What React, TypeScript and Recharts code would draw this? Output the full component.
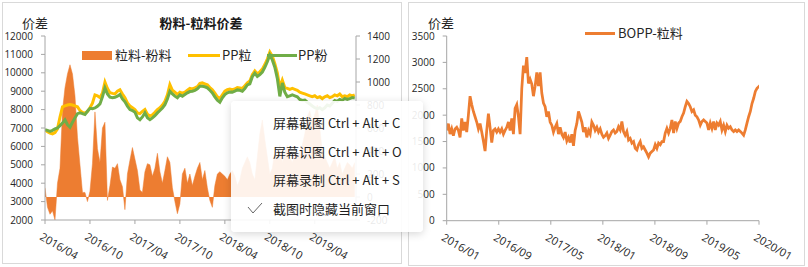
import React from 'react'
import { ComposedChart, LineChart, Line, Area, XAxis, YAxis } from 'recharts'

// left chart: x tick labels every 6 months, samples every 1/3 month from 2016/04
const leftTicks = ['2016/04', '2016/10', '2017/04', '2017/10', '2018/04', '2018/10', '2019/04']
// right chart: x tick labels every 8 months, samples about every week from 2016/01
const rightTicks = ['2016/01', '2016/09', '2017/05', '2018/01', '2018/09', '2019/05', '2020/01']

const ppPellet = [
  6900, 6800, 6720, 6680, 6750, 6950, 7600, 8150, 8200, 8250, 8270, 8250, 8200, 8150, 7950, 7850,
  7800, 7900, 8100, 8350, 8800, 8750, 8650, 8900, 9500, 9150, 8920, 8880, 8850, 9000, 9080, 8850,
  8640, 8360, 8200, 8100, 8000, 7820, 7780, 7900, 8000, 7750, 7640, 7720, 7850, 8000, 8100, 8250,
  8450, 8800, 9360, 9050, 8950, 8820, 8950, 8900, 8950, 9050, 9150, 9120, 9180, 9250, 9420, 9450,
  9400, 9350, 9200, 9080, 8900, 8700, 8600, 8800, 9000, 9080, 9120, 9080, 9120, 9200, 9180, 9150,
  9300, 9450, 9550, 9900, 10100, 9950, 10050, 10200, 10450, 10750, 11130, 10900, 10500, 10000, 9200, 9600,
  9200, 9150, 9100, 9150, 9100, 9050, 8950, 8900, 8850, 8800, 8750, 8700, 8750, 8650, 8700, 8600,
  8700, 8750, 8650, 8700, 8800, 8750, 8850, 8700, 8750, 8700, 8800, 8750, 8800,
]

const ppPowder = [
  6910, 6870, 6820, 6870, 6950, 7000, 7130, 7270, 7450, 7180, 7040, 7310, 7550, 7780, 7820, 7780,
  7730, 7910, 8070, 8050, 8090, 8180, 8310, 8690, 9180, 8850, 8670, 8640, 8670, 8730, 8820, 8580,
  8420, 8180, 8000, 7950, 7860, 7550, 7450, 7600, 7820, 7550, 7450, 7550, 7670, 7820, 7950, 8090,
  8270, 8580, 9000, 8850, 8730, 8640, 8800, 8730, 8820, 8910, 8980, 9000, 9040, 9130, 9270, 9270,
  9240, 9180, 9050, 8910, 8690, 8510, 8400, 8640, 8820, 8910, 8960, 8950, 9000, 9070, 9050, 9000,
  9150, 9340, 9400, 9790, 9980, 9800, 9900, 10040, 10300, 10600, 10970, 10700, 10300, 9700, 8720, 9450,
  8950, 8700, 8750, 8800, 8750, 8700, 8550, 8500, 8520, 8400, 8300, 8200, 8100, 8050, 8100, 8000,
  8100, 8250, 8200, 8350, 8500, 8450, 8550, 8500, 8600, 8550, 8600, 8650, 8630,
]

const spread = [
  80, -90, -150, -120, -200, 120, 250, 750, 950, 1070, 1150, 1070, 880, 520, 280, 40,
  40, -40, 50, 290, 740, 420, 300, 600, 650, -30, 100, 260, 250, 290, 150, 90,
  -110, 200, 320, 430, 330, 230, 60, 40, 220, 290, 280, 180, 250, 380, 220, 120,
  230, 350, 300, 80, -40, -145, -60, 200, 250, 120, 200, 100, 180, 250, 300, 150,
  230, 80, -30, -90, 100, 200, 220, 200, 180, 150, 200, 230, 180, 100, 150, 250,
  300, 350, 300, 200, 150, 350, 550, 670, 500, 350, 200, 250, 400, 350, 450, 300,
  400, 450, 350, 300, 380, 350, 400, 450, 550, 700, 750, 650, 720, 800, 600, 400,
  350, 300, 250, 300, 350, 250, 300, 200, 250, 300, 280, 250, 300,
]

const bopp = [
  1710, 1840, 1640, 1740, 1610, 1740, 1770, 1710, 1580, 1940, 1710, 1870, 1680, 2000, 2360, 2200,
  2070, 1970, 1870, 1740, 1840, 1680, 1510, 1320, 1710, 2030, 1770, 1480, 1710, 1740, 1680, 1740,
  1680, 1740, 1640, 1710, 1770, 1870, 1710, 1940, 1640, 2130, 2200, 1970, 1640, 2500, 2940, 2800,
  3100, 2600, 2680, 2590, 2360, 2550, 2810, 2550, 2810, 2420, 2230, 2160, 1970, 2070, 1870, 1810,
  1680, 1770, 1840, 1640, 1770, 1640, 1580, 1680, 1510, 1580, 1480, 1640, 1420, 1710, 1840, 2070,
  1970, 1870, 1680, 1770, 1580, 1710, 1640, 1870, 1810, 1710, 1770, 1680, 1740, 1640, 1580, 1610,
  1660, 1560, 1620, 1690, 1720, 1660, 1690, 1780, 1720, 1880, 1690, 1620, 1690, 1530, 1560, 1470,
  1500, 1370, 1340, 1440, 1500, 1370, 1400, 1340, 1280, 1210, 1280, 1310, 1340, 1440, 1370, 1470,
  1440, 1500, 1500, 1660, 1750, 1660, 1750, 1910, 1660, 1880, 1750, 1850, 1880, 1970, 2040, 2160,
  2260, 2220, 2160, 2070, 2100, 2000, 1970, 1910, 1810, 1880, 1910, 1880, 1850, 1720, 1850, 1750,
  1880, 1720, 1850, 1810, 1880, 1720, 1810, 1690, 1810, 1750, 1780, 1720, 1690, 1720, 1690, 1720,
  1690, 1660, 1620, 1720, 1850, 1970, 2070, 2220, 2320, 2450, 2510, 2540, 2570, 2510,
]

const LEFT_STEP = 1 / 3
const RIGHT_STEP = 5 / 3 / 6.5

const leftData = ppPellet.map((v, i) => ({
  m: i * LEFT_STEP,
  pellet: v,
  powder: ppPowder[i],
  spread: spread[i],
}))
const rightData = bopp.map((v, i) => ({ m: i * RIGHT_STEP, bopp: v }))

const ORANGE = '#ED7D31'
const YELLOW = '#FFC000'
const GREEN = '#70AD47'
const AXIS = '#a6a6a6'
const LABEL = '#262626'
const NUM_FONT = '"Open Sans", "Noto Sans", sans-serif'
const CJK_FONT = '"Noto Sans CJK SC", "Noto Sans", sans-serif'

const makeDateTick = (labels: string[], every: number) => (props: any) => {
  const { x, y, payload } = props
  const label = labels[Math.round(payload.value / every)]
  return (
    <g transform={`translate(${x - 6},${y + 13})`}>
      <text
        x={0}
        y={0}
        transform="rotate(30)"
        textAnchor="start"
        fontSize={11}
        fontFamily={NUM_FONT}
        fill={LABEL}
      >
        {label}
      </text>
    </g>
  )
}

const yTick = { fontSize: 10, fill: LABEL, fontFamily: NUM_FONT }

const abs = (left: number, top: number, extra: React.CSSProperties = {}): React.CSSProperties => ({
  position: 'absolute',
  left,
  top,
  ...extra,
})

const LeftChart = () => (
  <>
    <div style={abs(2, 2, { width: 400, height: 262, border: '1px solid #d9d9d9', boxSizing: 'border-box' })} />
    <div style={abs(0, 0)}>
      <ComposedChart
        width={404}
        height={267}
        data={leftData}
        margin={{ top: 36, right: 4, bottom: 7, left: 5 }}
      >
        <XAxis
          dataKey="m"
          type="number"
          domain={[0, 41.5]}
          ticks={[0, 6, 12, 18, 24, 30, 36]}
          allowDataOverflow
          height={40}
          stroke={AXIS}
          tickSize={4}
          interval={0}
          tick={makeDateTick(leftTicks, 6)}
        />
        <YAxis
          yAxisId="left"
          domain={[2000, 12000]}
          ticks={[2000, 3000, 4000, 5000, 6000, 7000, 8000, 9000, 10000, 11000, 12000]}
          width={40}
          stroke={AXIS}
          tickSize={4}
          tickMargin={8}
          interval={0}
          tick={yTick}
        />
        <YAxis
          yAxisId="right"
          orientation="right"
          domain={[-200, 1400]}
          ticks={[-200, 0, 200, 400, 600, 800, 1000, 1200, 1400]}
          width={44}
          stroke={AXIS}
          tickSize={4}
          tickMargin={7}
          interval={0}
          tick={{ ...yTick, textAnchor: 'start' }}
        />
        <Area
          yAxisId="right"
          dataKey="spread"
          type="linear"
          baseValue={0}
          fill={ORANGE}
          fillOpacity={1}
          stroke={ORANGE}
          strokeWidth={0.5}
          isAnimationActive={false}
        />
        <Line
          yAxisId="left"
          dataKey="pellet"
          type="linear"
          stroke={YELLOW}
          strokeWidth={3}
          dot={false}
          isAnimationActive={false}
        />
        <Line
          yAxisId="left"
          dataKey="powder"
          type="linear"
          stroke={GREEN}
          strokeWidth={3}
          dot={false}
          isAnimationActive={false}
        />
      </ComposedChart>
    </div>
    <div style={abs(22, 14, { fontSize: 13, fontFamily: CJK_FONT, color: LABEL, lineHeight: '18px' })}>价差</div>
    <div
      style={abs(120, 14, {
        width: 162,
        textAlign: 'center',
        fontSize: 13,
        fontWeight: 'bold',
        fontFamily: CJK_FONT,
        color: '#1a1a1a',
        lineHeight: '18px',
      })}
    >
      粉料-粒料价差
    </div>
    <div style={abs(82, 51, { width: 30, height: 9, background: ORANGE })} />
    <div style={abs(115, 46, { fontSize: 13, fontFamily: CJK_FONT, color: LABEL, lineHeight: '18px' })}>粒料-粉料</div>
    <div style={abs(188, 54, { width: 32, height: 3, background: YELLOW })} />
    <div style={abs(222, 46, { fontSize: 13, fontFamily: CJK_FONT, color: LABEL, lineHeight: '18px' })}>PP粒</div>
    <div style={abs(267, 54, { width: 30, height: 3, background: GREEN })} />
    <div style={abs(298, 46, { fontSize: 13, fontFamily: CJK_FONT, color: LABEL, lineHeight: '18px' })}>PP粉</div>
  </>
)

const RightChart = () => (
  <>
    <div style={abs(408, 2, { width: 397, height: 264, border: '1px solid #d9d9d9', boxSizing: 'border-box' })} />
    <div style={abs(404, 0)}>
      <LineChart
        width={404}
        height={267}
        data={rightData}
        margin={{ top: 36, right: 49, bottom: 6.3, left: 2.7 }}
      >
        <XAxis
          dataKey="m"
          type="number"
          domain={[0, 48]}
          ticks={[0, 8, 16, 24, 32, 40, 48]}
          allowDataOverflow
          height={40}
          stroke={AXIS}
          tickSize={4}
          interval={0}
          tick={makeDateTick(rightTicks, 8)}
        />
        <YAxis
          domain={[0, 3500]}
          ticks={[0, 500, 1000, 1500, 2000, 2500, 3000, 3500]}
          width={40}
          stroke={AXIS}
          tickSize={4}
          tickMargin={8}
          interval={0}
          tick={yTick}
        />
        <Line
          dataKey="bopp"
          type="linear"
          stroke={ORANGE}
          strokeWidth={2.75}
          dot={false}
          isAnimationActive={false}
        />
      </LineChart>
    </div>
    <div style={abs(428, 14, { fontSize: 13, fontFamily: CJK_FONT, color: LABEL, lineHeight: '18px' })}>价差</div>
    <div style={abs(585, 32, { width: 30, height: 3, background: ORANGE })} />
    <div style={abs(618, 24, { fontSize: 13, fontFamily: CJK_FONT, color: LABEL, lineHeight: '18px' })}>BOPP-粒料</div>
  </>
)

const menuItems = ['屏幕截图 Ctrl + Alt + C', '屏幕识图 Ctrl + Alt + O', '屏幕录制 Ctrl + Alt + S', '截图时隐藏当前窗口']

const ContextMenu = () => (
  <div
    style={abs(231, 101, {
      width: 192,
      height: 131,
      background: 'rgba(255,255,255,0.9)',
      boxShadow: '0 2px 8px rgba(0,0,0,0.16)',
      borderRadius: 4,
    })}
  >
    {menuItems.map((t, i) => (
      <div
        key={t}
        style={abs(42, 12 + i * 28.6, {
          fontSize: 13,
          fontFamily: CJK_FONT,
          color: '#1f1f1f',
          lineHeight: '20px',
          whiteSpace: 'nowrap',
        })}
      >
        {t}
      </div>
    ))}
    <svg style={abs(15, 100)} width={18} height={14}>
      <polyline points="2,6 7,12 16,2" fill="none" stroke="#666" strokeWidth={1} />
    </svg>
  </div>
)

export default function App() {
  return (
    <div style={{ position: 'fixed', left: 0, top: 0, width: 808, height: 267, background: '#fff', overflow: 'hidden' }}>
      <LeftChart />
      <RightChart />
      <ContextMenu />
    </div>
  )
}
